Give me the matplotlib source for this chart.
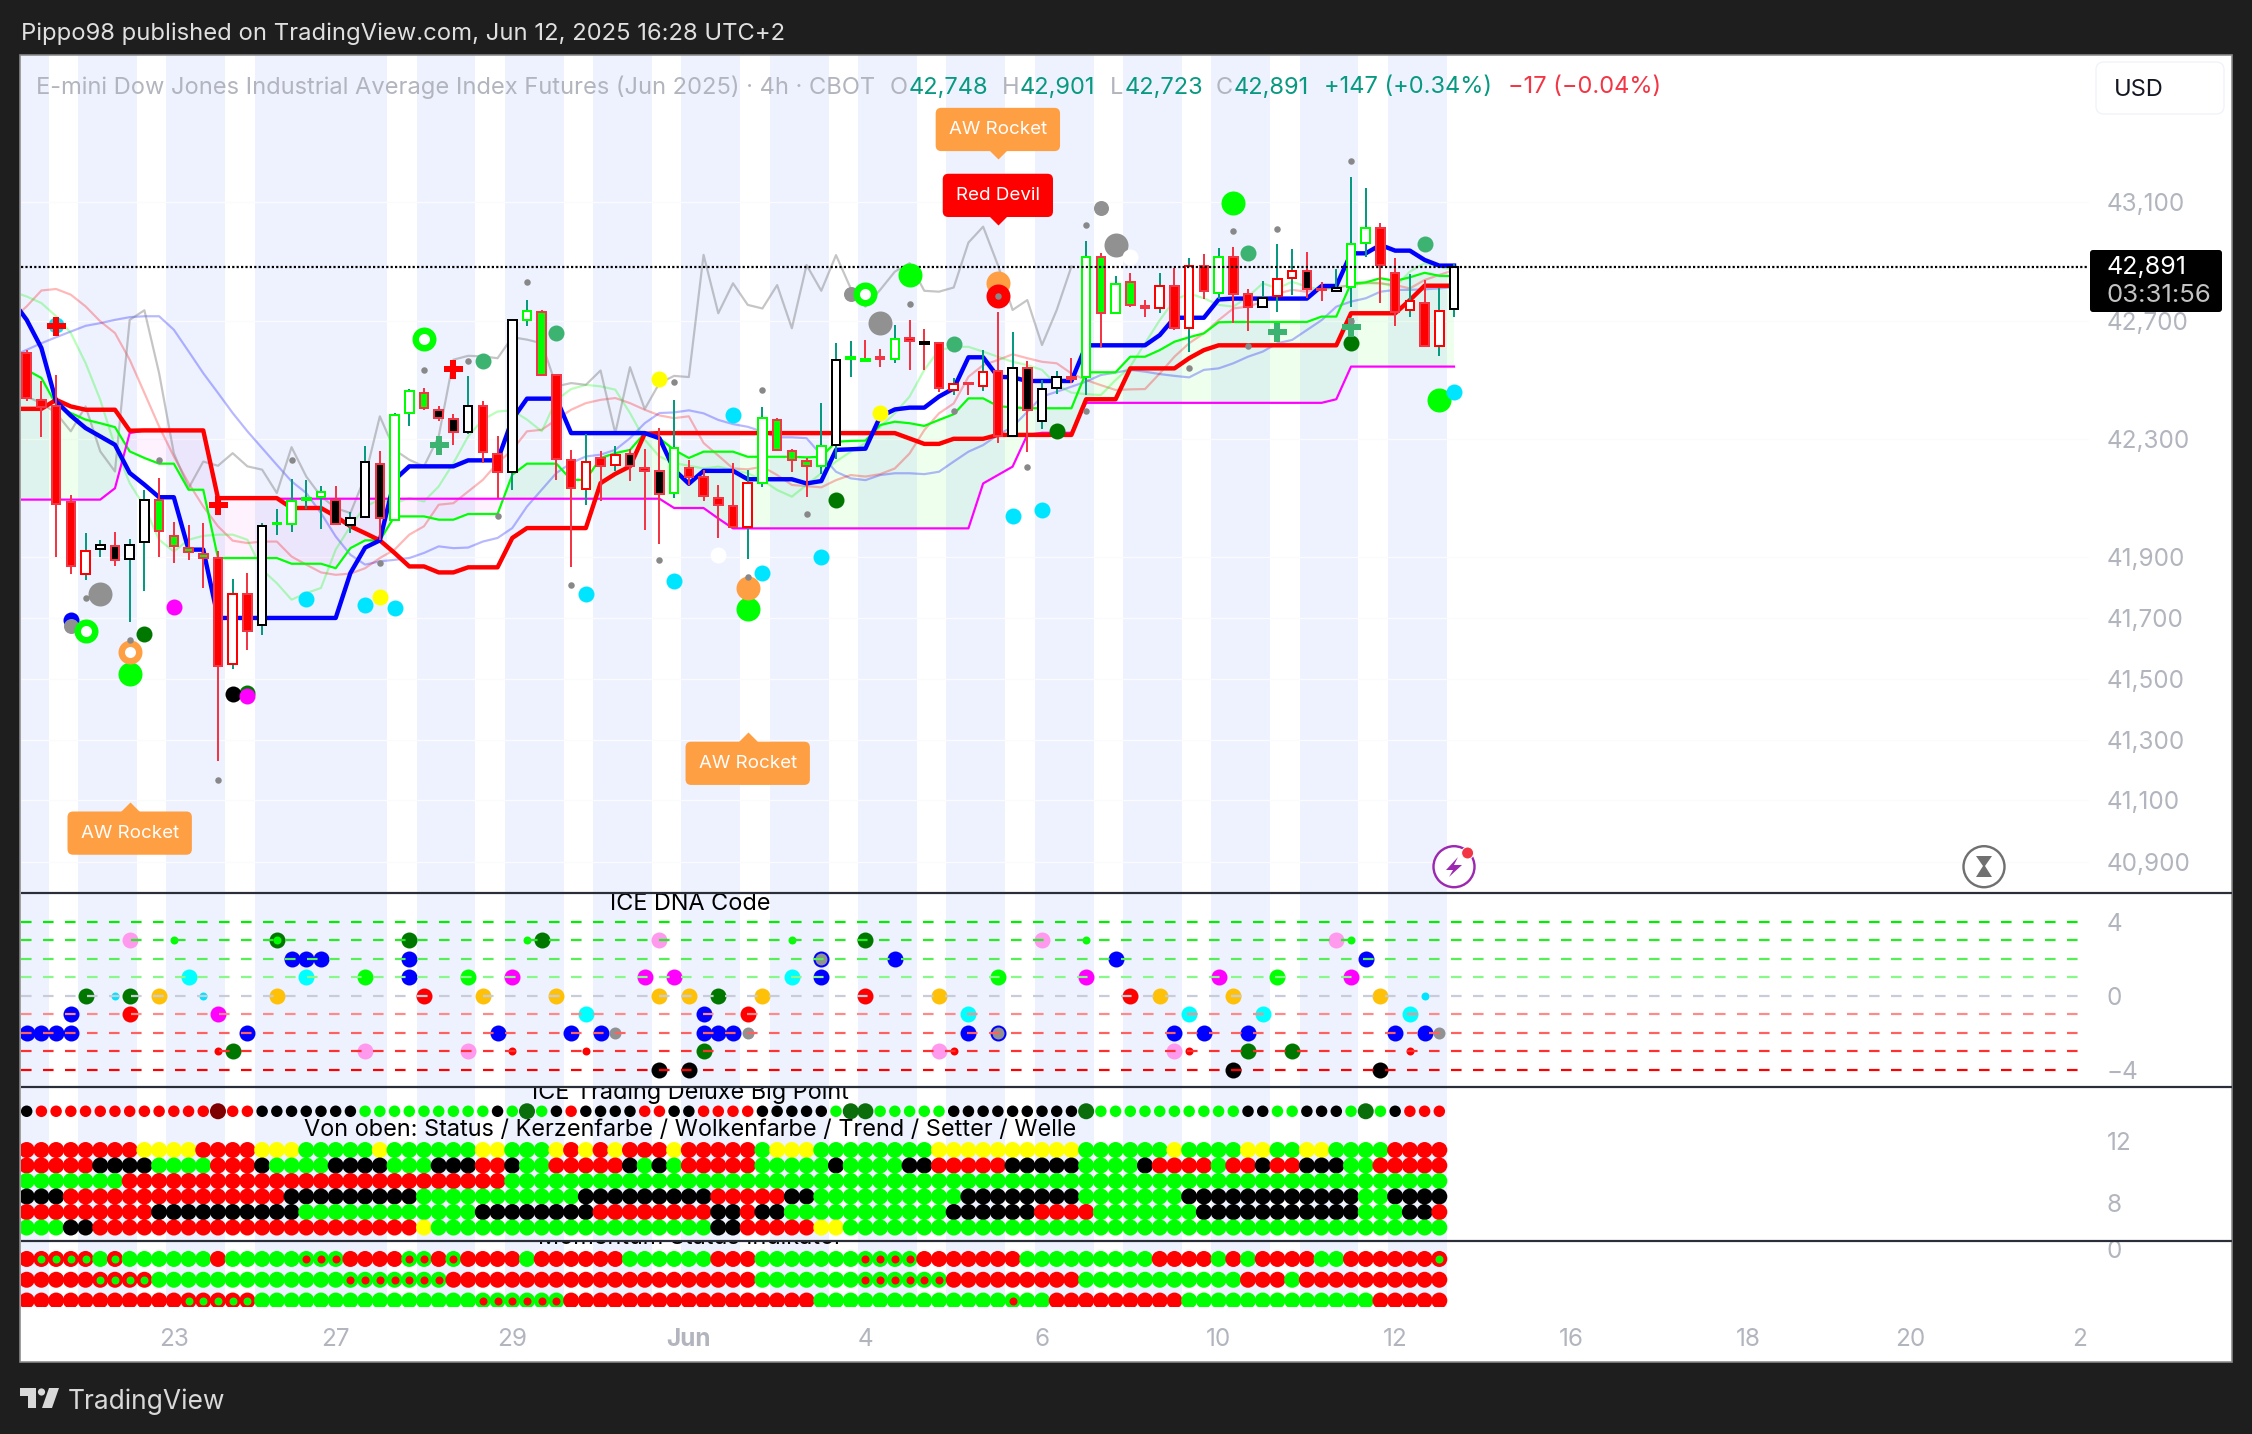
import matplotlib
matplotlib.use("Agg")
import matplotlib.pyplot as plt
import numpy as np
from matplotlib.patches import Circle, FancyBboxPatch, Polygon, Rectangle
from matplotlib.path import Path

plt.rcParams['font.family'] = ['Inter', 'DejaVu Sans']

# ---- candles, one row per 4h bar
opens = [42604,42446,42424,42105,41866,41949,41959,41916,41970,42113,41992,41952,41930,41918,41565,41799,41695,42030,42032,42113,
         42121,42113,42029,42056,42233,42046,42403,42470,42413,42383,42340,42424,42266,42204,42713,42738,42528,42246,42149,42252,
         42229,42265,42220,42207,42136,42220,42187,42119,42093,42023,42170,42379,42275,42242,42225,42295,42581,42583,42588,42581,
         42651,42638,42637,42478,42501,42492,42543,42325,42553,42374,42484,42523,42523,42922,42737,42839,42759,42752,42826,42686,
         42893,42804,42924,42799,42757,42793,42853,42876,42817,42809,42822,42968,43018,42870,42746,42770,42626,42748]
highs = [42613,42508,42530,42129,42001,41979,42005,41981,42144,42185,42039,42029,42035,41940,41849,41868,42035,42081,42183,42179,
         42159,42159,42071,42291,42274,42402,42482,42485,42426,42400,42524,42443,42326,42716,42780,42747,42528,42279,42333,42274,
         42293,42282,42282,42352,42446,42246,42213,42162,42234,42212,42421,42384,42281,42251,42434,42635,42642,42646,42615,42696,
         42712,42681,42640,42518,42503,42612,42740,42674,42576,42512,42542,42587,42977,42935,42859,42868,42779,42868,42885,42918,
         42933,42954,42957,42815,42843,42966,42948,42941,42840,42882,43191,43153,43037,42918,42866,42846,42818,42901]
lows = [42441,42322,41921,41864,41846,41921,41893,41706,41807,41921,41903,41912,41818,41241,41548,41610,41662,41996,42004,42081,
        42015,42029,42001,42051,41979,42046,42360,42413,42374,42294,42333,42235,42118,42146,42693,42524,42177,41887,42094,42107,
        42207,42174,42010,41966,42118,42163,42110,41986,42020,41914,42156,42276,42206,42123,42198,42247,42523,42573,42557,42568,
        42546,42546,42473,42462,42462,42475,42303,42323,42273,42348,42465,42503,42462,42623,42735,42755,42721,42737,42679,42607,
        42781,42781,42704,42677,42755,42740,42796,42785,42777,42807,42755,42924,42768,42692,42721,42623,42593,42723]
closes = [42452,42422,42098,41892,41943,41960,41912,41960,42113,42009,41959,41937,41918,41556,41799,41673,42026,42035,42110,42120,
          42139,42032,42052,42237,42050,42397,42474,42419,42386,42338,42424,42273,42206,42711,42741,42530,42248,42153,42237,42226,
          42263,42224,42209,42133,42284,42188,42126,42095,42023,42170,42386,42279,42245,42225,42292,42579,42590,42574,42582,42650,
          42643,42633,42484,42498,42498,42540,42325,42553,42412,42483,42523,42517,42924,42737,42833,42763,42752,42826,42685,42893,
          42810,42924,42799,42756,42785,42849,42876,42815,42813,42819,42966,43020,42895,42740,42777,42626,42744,42891]
# R red, G green, B black (red rim), H red hollow, L lime hollow, K black hollow, g lime flat, k black flat
bar_state = ("RRRRHKBKKGGGGRHRKgLgLB" "KKBLLGBBKRRKLGRRHRHBRBL" "RRRRHLGGGLKggRLRkRHRHRKBKKR" "LGLGRHRHRLRRKHHBRKLLRRHRHK")

# ---- lines, first value belongs to the bar before the first candle
blue_line = [42780,42713,42619,42441,42393,42352,42324,42296,42202,42163,42121,42121,41946,41946,41718,41718,41718,41718,41718,41718,
             41718,41718,41718,41868,41953,41977,42179,42224,42224,42224,42224,42244,42244,42244,42380,42450,42450,42450,42335,42335,
             42335,42335,42335,42335,42318,42213,42166,42209,42209,42209,42181,42181,42181,42181,42167,42175,42279,42281,42283,42390,
             42414,42420,42420,42457,42484,42588,42588,42523,42521,42509,42509,42509,42509,42628,42628,42628,42628,42628,42662,42720,
             42720,42720,42781,42784,42784,42784,42784,42784,42784,42826,42826,42935,42935,42963,42944,42944,42913,42894,42894]
red_line = [42416,42416,42416,42446,42424,42413,42413,42413,42343,42344,42344,42344,42344,42344,42118,42118,42118,42118,42118,42085,
            42085,42085,42057,42024,42001,41977,41935,41890,41890,41870,41870,41887,41887,41887,41985,42018,42018,42018,42018,42018,
            42168,42199,42224,42333,42335,42335,42335,42335,42335,42335,42335,42335,42335,42335,42335,42335,42335,42335,42335,42335,
            42335,42317,42299,42299,42316,42316,42316,42329,42329,42329,42329,42329,42329,42448,42448,42448,42551,42551,42551,42551,
            42585,42612,42628,42628,42628,42628,42628,42628,42628,42628,42628,42735,42735,42735,42735,42779,42827,42827,42827]
magenta_line = [42113,42113,42113,42113,42113,42113,42113,42151,42335,42344,42344,42344,42344,42344,42116,42116,42116,42116,42116,42116,
                42116,42116,42116,42116,42116,42116,42116,42116,42116,42116,42116,42116,42116,42116,42116,42116,42116,42116,42116,42116,
                42116,42116,42116,42116,42116,42085,42085,42085,42050,42017,42017,42017,42017,42017,42017,42017,42017,42017,42017,42017,
                42017,42017,42017,42017,42017,42017,42167,42195,42223,42329,42336,42336,42336,42436,42436,42436,42436,42436,42436,42436,
                42436,42436,42436,42436,42436,42436,42436,42436,42436,42436,42448,42557,42557,42557,42557,42557,42557,42557,42557]
green_line = [42580,42546,42519,42430,42402,42380,42368,42355,42274,42252,42233,42233,42146,42146,41918,41918,41918,41918,41918,41899,
              41899,41899,41884,41951,41977,41977,42057,42057,42057,42046,42046,42065,42065,42065,42196,42233,42233,42233,42179,42179,
              42252,42268,42279,42335,42318,42279,42252,42273,42273,42273,42256,42256,42256,42256,42254,42256,42306,42309,42310,42362,
              42373,42368,42359,42379,42398,42451,42451,42425,42421,42418,42418,42418,42418,42538,42538,42538,42590,42590,42612,42640,
              42655,42668,42705,42706,42706,42706,42706,42706,42706,42724,42724,42835,42838,42852,42843,42855,42870,42860,42859]
soft_blue = [42591,42613,42635,42655,42674,42693,42702,42713,42722,42725,42725,42680,42608,42535,42469,42402,42341,42285,42229,42174,
             42135,42068,41990,41929,41896,41907,41912,41918,41935,41957,41951,41953,41973,41985,42018,42090,42146,42202,42235,42257,
             42263,42279,42318,42368,42402,42404,42411,42401,42379,42365,42356,42340,42321,42321,42318,42262,42206,42184,42178,42195,
             42201,42201,42198,42206,42240,42273,42295,42329,42356,42406,42457,42473,42490,42507,42529,42537,42546,42540,42532,42526,
             42521,42546,42551,42568,42590,42607,42635,42646,42679,42712,42757,42774,42785,42807,42813,42813,42815,42818,42822]
soft_pink = [42713,42758,42811,42816,42797,42758,42708,42669,42580,42469,42357,42257,42168,42090,42024,41976,41968,41973,41973,41923,
             41896,41870,41862,41866,41884,41918,41946,41996,42024,42096,42101,42140,42179,42235,42279,42341,42346,42380,42413,42435,
             42446,42452,42435,42413,42394,42385,42391,42302,42260,42217,42214,42223,42195,42162,42158,42154,42178,42195,42190,42198,
             42217,42267,42345,42401,42434,42523,42562,42579,42598,42585,42573,42568,42534,42512,42495,42479,42481,42482,42534,42590,
             42635,42668,42712,42751,42757,42774,42801,42813,42807,42818,42821,42829,42837,42835,42829,42818,42846,42863,42879]
soft_green = [42808,42791,42769,42725,42669,42569,42446,42291,42168,42090,41979,41940,41979,41992,41996,41996,41979,41879,41834,41779,
              41801,41818,41946,42024,42090,42113,42101,42118,42107,42157,42235,42324,42380,42407,42411,42380,42341,42446,42482,42496,
              42491,42480,42402,42313,42257,42235,42226,42217,42223,42212,42201,42178,42145,42123,42162,42201,42240,42273,42301,42356,
              42401,42457,42546,42612,42623,42623,42607,42590,42573,42562,42546,42495,42470,42465,42462,42512,42557,42635,42712,42779,
              42801,42785,42763,42757,42790,42835,42818,42840,42824,42813,42821,42829,42835,42835,42824,42874,42902,42890,42879]
lag_gray = [42457,42435,42402,42341,42424,42274,42207,42713,42745,42535,42268,42151,42240,42226,42268,42224,42213,42135,42288,42190,
            42124,42085,42068,42190,42391,42279,42246,42224,42324,42580,42593,42591,42585,42655,42647,42635,42491,42502,42496,42544,
            42335,42555,42415,42502,42526,42522,42930,42735,42835,42763,42751,42829,42685,42896,42810,42929,42818,42757,42813,42874,
            42902,42810,42807,42821,42971,43024,42896,42746,42779,42629,42746,42891]

# ---- day session shading, in bar numbers
band_starts = [-1.0,3.5,9.5,15.5,26.5,32.5,38.5,44.5,50.5,56.5,62.5,68.5,74.5,80.5,86.5,92.5]
band_ends = [1.5,7.5,13.5,24.5,30.5,36.5,42.5,48.5,54.5,60.5,66.5,72.5,78.5,84.5,90.5,96.5]

# ---- signals on the price pane (bar, price)
gray_small = [(4,41785),(7,41643),(9,42246),(13,41177),(18,42244),(24,41901),(27,42544),(30,42576),(32,42057),(34,42838),(37,41827),
              (43,41910),(44,42504),(49,41856),(50,42479),(53,42065),(60,42766),(63,42410),(66,42793),(68,42223),(72,42410),(72,43030),
              (79,42553),(82,43011),(83,42627),(85,43016),(90,43243),(90,42710)]
gray_mid = [(3,41690),(56,42799),(73,43087)]
gray_big = [(5,41799),(58,42701),(74,42963)]
cyan_dots = [(2,42697),(19,41782),(23,41762),(25,41751),(38,41799),(44,41840),(48,42396),(50,41868),(54,41922),(67,42058),(69,42080),(97,42473)]
yellow_dots = [(24,41788),(43,42516),(58,42403)]
white_dots = [(47,41929),(75,42924)]
seagreen_dots = [(31,42574),(36,42669),(63,42632),(83,42937),(95,42966)]
darkgreen_dots = [(8,41665),(15,41467),(55,42112),(70,42343),(90,42635)]
magenta_dots = [(10,41753),(15,41456)]
black_dots = [(14,41465)]
blue_dots = [(3,41712)]
lime_big = [(7,41532),(49,41749),(60,42863),(82,43104),(96,42445)]
orange_big = [(49,41819),(66,42835)]
red_big = [(66,42793)]
lime_rings = [(4,41673),(27,42650),(57,42799)]
orange_rings = [(7,41606)]
red_crosses = [(2,42691),(13,42096),(29,42550)]
green_crosses = [(28,42296),(85,42674),(90,42690)]
labels_above = [("AW Rocket",66,43250,"#ff9f43"),("Red Devil",66,43030,"#ff0000")]
labels_below = [("AW Rocket",7,41105,"#ff9f43"),("AW Rocket",49,41338,"#ff9f43")]

# ---- ICE DNA Code (bar, level)
dna_levels = [4,3,2,1,0,-1,-2,-3,-4]
dna_blue = [(18,2),(19,2),(20,2),(26,2),(59,2),(74,2),(91,2),(26,1),(54,1),(3,-1),(46,-1),(0,-2),(1,-2),(2,-2),(3,-2),(15,-2),(32,-2),
            (37,-2),(39,-2),(46,-2),(47,-2),(48,-2),(64,-2),(78,-2),(80,-2),(83,-2),(93,-2),(95,-2)]
dna_darkgreen = [(17,3),(26,3),(35,3),(57,3),(4,0),(7,0),(47,0),(14,-3),(46,-3),(83,-3),(86,-3)]
dna_pink = [(7,3),(43,3),(69,3),(89,3),(23,-3),(30,-3),(62,-3),(78,-3)]
dna_lime = [(23,1),(30,1),(66,1),(85,1)]
dna_lime_small = [(10,3),(17,3),(34,3),(52,3),(72,3),(90,3)]
dna_cyan = [(11,1),(19,1),(52,1),(38,-1),(64,-1),(79,-1),(84,-1),(94,-1)]
dna_cyan_small = [(6,0),(12,0),(95,0)]
dna_magenta = [(33,1),(42,1),(44,1),(72,1),(81,1),(90,1),(13,-1)]
dna_amber = [(9,0),(17,0),(31,0),(36,0),(43,0),(45,0),(50,0),(62,0),(77,0),(82,0),(92,0)]
dna_red = [(27,0),(57,0),(75,0),(7,-1),(49,-1)]
dna_red_small = [(13,-3),(33,-3),(38,-3),(63,-3),(79,-3),(94,-3)]
dna_gray = [(40,-2),(49,-2),(96,-2)]
dna_gray_rimmed = [(54,2),(66,-2)]
dna_black = [(43,-4),(45,-4),(82,-4),(92,-4)]

# ---- Big Point rows, one letter per bar
big_point_top = ("k" + "r"*12 + "D" "rr" + "k"*7 + "g"*9 + "k" "g" "E" "g" "k" "r" "kkkk" "rr" "kk" "rrrr" "kkkkk" "g" "EE"
                 "ggggg" + "k"*9 + "E" + "g"*10 + "kk" "gg" "kkk" "g" "E" "g" "k" "rrr")
big_point_rows = [
    ("r"*8 + "yyyy" "rrrr" "yyy" "ggggg" "y" "gggggg" "yy" "ggg" "y" "r" "y" "r" "y" "rrr" "y" "rrrrr" "g" "yyy" + "g"*8
     + "y"*10 + "gggggg" "y" "gggg" "yy" "gg" "yy" "gggg" "rrrr"),
    ("rrrrr" "kkkk" "gggg" "rrr" "k" "gggg" "kkkk" "ggg" "kkk" "rr" "k" "gg" "rrrrr" "k" "g" "k" "g" "rrrrr" "ggggg" "k" "gggg"
     "kk" "rrrrr" "kkkkk" "gggg" "k" "rrrr" "g" "rr" "k" "rr" "kkk" "gg" "rrrrr"),
    "g"*7 + "r"*26 + "g"*64,
    ("kkk" + "r"*15 + "k"*9 + "g"*11 + "k"*9 + "rrrrr" "kk" + "g"*10 + "k"*8 + "g"*7 + "k"*12 + "gg" "kkkk"),
    ("r"*9 + "k"*10 + "g"*12 + "k"*8 + "r"*8 + "kk" "r" "kk" + "g"*11 + "k"*6 + "rrrr" + "g"*7 + "k"*11 + "ggg" "kk" "r"),
    ("ggg" "kk" + "r"*22 + "y" + "g"*19 + "kk" "rrrrr" "yy" + "g"*41),
]
big_point_levels = [11.4,10.4,9.4,8.4,7.4,6.4]
big_point_top_level = 13.9

# ---- Momentum rows; a = red with lime centre, b = lime with red centre
momentum_rows = [
    ("r" "aaaa" "g" "a" "gggggg" "r" "ggggg" "bbb" "rrrr" "bb" "r" "b" "rrrr" "g" "rrrrrr" "gggggg" "rrr" "ggggggg" "bbbb" "rrrrrrr"
     "ggggggggg" "rrrr" "g" "r" "g" "rrrr" "gg" "rrrrrr" "a"),
    ("rrrrr" "aaaa" + "g"*13 + "b"*7 + "r"*21 + "g"*7 + "b"*6 + "r"*9 + "g"*11 + "rrr" "g" + "r"*10),
    ("r"*11 + "aaaaa" + "g"*15 + "b"*6 + "r"*17 + "g"*13 + "b" "gg" + "r"*9 + "g"*13 + "rrrrr"),
]
momentum_levels = [-0.5,-1.5,-2.5]

# the source axis is slightly logarithmic, so the labels do not sit evenly on this linear one
price_tick_labels = [43100,42700,42300,41900,41700,41500,41300,41100,40900]
price_tick_places = [43105,42709,42314,41923,41717,41514,41312,41110,40905]
date_ticks = [10,21,33,45,57,69,81,93,105,117,128,139.5]
date_labels = ["23","27","29","Jun","4","6","10","12","16","18","20","2"]
last_price = 42891
left_bar, right_bar = -0.42, 149.87

W, H = 2252, 1434
fig = plt.figure(figsize=(W / 100, H / 100), dpi=100, facecolor='#1e1e1e')


def px(d):
    # pixels to points at this dpi
    return d * 0.72


def dot_size(d):
    return px(d) ** 2


def pane(top, bottom, ymin, ymax):
    ax = fig.add_axes([20.5 / W, 1 - bottom / H, (2232 - 20.5) / W, (bottom - top) / H])
    ax.set_xlim(left_bar, right_bar)
    ax.set_ylim(ymin, ymax)
    for s in ax.spines.values():
        s.set_visible(False)
    ax.set_xticks([])
    ax.yaxis.tick_right()
    ax.tick_params(axis='y', length=0, pad=-90.2, labelcolor='#b2b5be', labelsize=17.5)
    for a, b in zip(band_starts, band_ends):
        ax.axvspan(a, b, color='#eef2ff', lw=0, zorder=0)
    return ax


def dots(ax, pts, color, d, z=6, **kw):
    xs = [p[0] for p in pts]
    ys = [p[1] for p in pts]
    ax.scatter(xs, ys, s=dot_size(d), c=color, linewidths=kw.pop('linewidths', 0), zorder=z, **kw)


back = fig.add_axes([0, 0, 1, 1], zorder=-1)
back.set_xlim(0, W)
back.set_ylim(H, 0)
back.axis('off')
back.add_patch(Rectangle((20, 55), 2212, 1307, fc='white', ec='none'))

# ---------------- price pane
ax = pane(55, 892.7, 40801, 43597)
bars = np.arange(len(closes))
line_x = np.arange(-1, 98)

ax.hlines(price_tick_places, left_bar, 140.1, color='#fafbfd', lw=px(1.4), zorder=0.5)

g_arr = np.array(green_line)
m_arr = np.array(magenta_line)
ax.fill_between(line_x, g_arr, m_arr, where=g_arr >= m_arr, interpolate=True, color='#00ff00', alpha=0.065, lw=0, zorder=1)
ax.fill_between(line_x, g_arr, m_arr, where=g_arr <= m_arr, interpolate=True, color='#d80fd8', alpha=0.05, lw=0, zorder=1)

ax.plot(line_x, soft_blue, color='#0000ff', alpha=0.28, lw=px(2.2), zorder=1.5)
ax.plot(line_x, soft_pink, color='#ff0000', alpha=0.28, lw=px(2.2), zorder=1.5)
ax.plot(line_x, soft_green, color='#00ff00', alpha=0.28, lw=px(2.2), zorder=1.5)
ax.plot(bars[:len(lag_gray)], lag_gray, color='#808080', alpha=0.45, lw=px(2.2), zorder=1.5)
ax.plot(line_x, green_line, color='#00ff00', lw=px(2.2), zorder=2)
ax.plot(line_x, magenta_line, color='#ff00ff', lw=px(2.2), zorder=2)
ax.plot(line_x, red_line, color='#ff0000', lw=px(4.4), zorder=2.5)
ax.plot(line_x, blue_line, color='#0000ff', lw=px(4.4), zorder=2.6)

body_fill = {'R': '#ff0000', 'G': '#00ff00', 'B': '#000000', 'H': 'white', 'L': 'white', 'K': 'white', 'g': '#00ff00', 'k': '#000000'}
body_edge = {'R': '#f23645', 'G': '#f23645', 'B': '#f23645', 'H': '#ff0000', 'L': '#00ff00', 'K': '#000000', 'g': '#00ff00', 'k': '#000000'}
o_arr, h_arr, l_arr, c_arr = map(np.array, (opens, highs, lows, closes))
wick_col = ['#089981' if c >= o else '#f23645' for o, c in zip(opens, closes)]
ax.vlines(bars, l_arr, h_arr, colors=wick_col, lw=px(2), zorder=3)
ax.bar(bars, np.abs(c_arr - o_arr), bottom=np.minimum(o_arr, c_arr), width=0.58,
       color=[body_fill[s] for s in bar_state], edgecolor=[body_edge[s] for s in bar_state],
       linewidth=px(2), zorder=4)

ax.hlines(last_price, left_bar, 140.1, color='black', lw=px(2.2), linestyles=(0, (1, 1)), zorder=5)

dots(ax, lime_big, '#00ff00', 24)
dots(ax, orange_big, '#ff9f43', 24)
dots(ax, red_big, '#ff0000', 24)
dots(ax, gray_big, '#919191', 24)
dots(ax, blue_dots, '#0000ff', 16)
dots(ax, gray_mid, '#919191', 15)
dots(ax, cyan_dots, '#00e5ff', 16)
dots(ax, yellow_dots, '#ffff00', 16)
dots(ax, white_dots, 'white', 16)
dots(ax, seagreen_dots, '#3cb371', 16)
dots(ax, darkgreen_dots, '#007800', 16)
dots(ax, black_dots, 'black', 16)
dots(ax, magenta_dots, '#ff00ff', 16)
dots(ax, lime_rings, '#00ff00', 24)
dots(ax, lime_rings, 'white', 11)
dots(ax, orange_rings, '#ff9f43', 24)
dots(ax, orange_rings, 'white', 11)
dots(ax, red_crosses, '#ff0000', 19, marker='P', z=7)
dots(ax, green_crosses, '#3cb371', 19, marker='P', z=7)
dots(ax, gray_small, '#888888', 6.5, z=8)

tip_down = Path([(0, 0), (-1, 1), (1, 1), (0, 0)])
tip_up = Path([(0, 0), (-1, -1), (1, -1), (0, 0)])
for group, tip, off in ((labels_above, tip_down, 29.5), (labels_below, tip_up, -31.5)):
    for text, bar, price, col in group:
        ax.plot([bar], [price], marker=tip, ms=px(24), color=col, mew=0, zorder=9, clip_on=False)
        ax.annotate(text, (bar, price), xytext=(0, off), textcoords='offset pixels', ha='center', va='center',
                    color='white', fontsize=13.5, zorder=9,
                    bbox=dict(boxstyle='round,pad=0.7,rounding_size=0.3', fc=col, ec='none'))

ax.set_yticks(price_tick_places)
ax.set_yticklabels([f"{t:,}" for t in price_tick_labels])

# ---------------- ICE DNA Code
ax2 = pane(893.5, 1086.7, -4.93, 5.52)
level_cols = ['#00ee00', '#22ee22', '#55f055', '#88f888', '#c8ccd8', '#ff8a8a', '#ff6060', '#ff3030', '#ff0000']
for lev, col in zip(dna_levels, level_cols):
    ax2.hlines(lev, left_bar, 139.4, color=col, lw=px(2.2), linestyles=(0, (4.8, 5.2)), zorder=8)
dots(ax2, dna_blue, '#0000ff', 16)
dots(ax2, dna_darkgreen, '#007800', 16)
dots(ax2, dna_pink, '#ff99ee', 16)
dots(ax2, dna_lime, '#00ff00', 16)
dots(ax2, dna_lime_small, '#00ff00', 8, z=7)
dots(ax2, dna_cyan, '#00ffff', 16)
dots(ax2, dna_cyan_small, '#00e5ff', 8)
dots(ax2, dna_magenta, '#ff00ff', 16)
dots(ax2, dna_amber, '#ffc107', 16)
dots(ax2, dna_red, '#ff0000', 16)
dots(ax2, dna_red_small, '#ff0000', 8)
dots(ax2, dna_gray, '#919191', 12)
dots(ax2, dna_gray_rimmed, '#919191', 14, edgecolors='#0000ff', linewidths=px(2))
dots(ax2, dna_black, 'black', 16)
ax2.set_yticks([4, 0, -4])
ax2.set_yticklabels(["4", "0", "\u22124"])

# ---------------- Big Point
ax3 = pane(1087.7, 1240.7, 5.55, 15.42)
row_cols = {'r': '#ff0000', 'g': '#00ff00', 'k': '#000000', 'y': '#ffff00', 'D': '#7f0000', 'E': '#0a6e0a'}
for lev, row in zip(big_point_levels, big_point_rows):
    ax3.scatter(np.arange(len(row)), [lev] * len(row), s=dot_size(16), c=[row_cols[c] for c in row], linewidths=0, zorder=3)
top_sizes = [dot_size(16) if c in 'DE' else dot_size(11.5) for c in big_point_top]
ax3.scatter(np.arange(len(big_point_top)), [big_point_top_level] * len(big_point_top), s=top_sizes,
            c=[row_cols[c] for c in big_point_top], linewidths=0, zorder=3)
ax3.set_yticks([12, 8])
ax3.set_yticklabels(["12", "8"])

# ---------------- Momentum
ax4 = pane(1241.7, 1307, -2.81, 0.33)
outer = {'r': '#ff0000', 'g': '#00ff00', 'a': '#ff0000', 'b': '#00ff00'}
for lev, row in zip(momentum_levels, momentum_rows):
    ax4.scatter(np.arange(len(row)), [lev] * len(row), s=dot_size(16), c=[outer[c] for c in row], linewidths=0, zorder=3)
    for kind, col in (('a', '#00ff00'), ('b', '#ff0000')):
        idx = [i for i, c in enumerate(row) if c == kind]
        ax4.scatter(idx, [lev] * len(idx), s=dot_size(8), c=col, linewidths=0, zorder=4)
ax4.set_yticks([0])
ax4.set_yticklabels(["0"])
ax4.set_xticks(date_ticks)
ax4.set_xticklabels(date_labels, color='#b2b5be', fontsize=17.5)
ax4.get_xticklabels()[3].set_fontweight('bold')
ax4.tick_params(axis='x', length=0, pad=15)

# pane titles stay inside their own panes so they get cut at the pane edge
title_x = (690 - 20.5) / (2232 - 20.5)
for a, ypx, txt in ((ax2, 903.5, "ICE DNA Code"), (ax3, 1093, "ICE Trading Deluxe Big Point"),
                    (ax3, 1130, "Von oben: Status / Kerzenfarbe / Wolkenfarbe / Trend / Setter / Welle"),
                    (ax4, 1237.5, "Momentum Status Indikator")):
    top, bottom = a.get_position().y1 * H, a.get_position().y0 * H
    frac = ((H - ypx) - bottom) / (top - bottom)
    a.text(title_x, frac, txt, transform=a.transAxes, ha='center', va='center', fontsize=16.9, color='black',
           clip_on=True, zorder=9)

# ---------------- chrome on top, in pixels
top_ax = fig.add_axes([0, 0, 1, 1], zorder=10)
top_ax.set_xlim(0, W)
top_ax.set_ylim(H, 0)
top_ax.axis('off')
top_ax.add_patch(Rectangle((20, 55), 2212, 1307, fc='none', ec='#8a8a8a', lw=px(1.6)))
for y in (892.7, 1086.7, 1240.7):
    top_ax.plot([20.5, 2232], [y, y], color='#2a2e39', lw=px(2.2), solid_capstyle='butt')

top_ax.text(21, 34, "Pippo98 published on TradingView.com, Jun 12, 2025 16:28 UTC+2", color='#e0e0e0', fontsize=17.15, va='center')
top_ax.text(36, 87.5, "E-mini Dow Jones Industrial Average Index Futures (Jun 2025) \u00b7 4h \u00b7 CBOT", color='#b2b5be',
            fontsize=17.05, va='center')
for x, txt, col in ((890, "O", '#b2b5be'), (909, "42,748", '#089981'), (1002, "H", '#b2b5be'), (1020, "42,901", '#089981'),
                    (1110, "L", '#b2b5be'), (1125, "42,723", '#089981'), (1216, "C", '#b2b5be'), (1234, "42,891", '#089981'),
                    (1324, "+147 (+0.34%)", '#089981'), (1508, "\u221217 (\u22120.04%)", '#f23645')):
    top_ax.text(x, 87.5, txt, color=col, fontsize=17, va='center')

top_ax.add_patch(FancyBboxPatch((2100, 66), 120, 44, boxstyle='round,pad=4,rounding_size=8', fc='white', ec='#f0f3fa', lw=px(1.4)))
top_ax.text(2114, 89.5, "USD", color='#131722', fontsize=17, va='center')

top_ax.add_patch(FancyBboxPatch((2093, 253), 126, 56, boxstyle='round,pad=3,rounding_size=3', fc='black', ec='none'))
top_ax.text(2106.7, 267.5, f"{last_price:,}", color='white', fontsize=18, va='center')
top_ax.text(2106.7, 295.5, "03:31:56", color='#c3c3c3', fontsize=18.6, va='center')

# alert and replay badges
top_ax.add_patch(Circle((1454, 866.7), 20.5, fc='white', ec='#9c27b0', lw=px(2.4)))
top_ax.add_patch(Polygon([(1458, 857), (1446, 870), (1453, 870), (1449, 877), (1462, 865), (1454, 865)], fc='#9c27b0', ec='none'))
top_ax.add_patch(Circle((1467.6, 853), 6, fc='#f23645', ec='white', lw=px(1)))
top_ax.add_patch(Circle((1984, 866.7), 20.5, fc='white', ec='#707070', lw=px(2.4)))
top_ax.add_patch(Polygon([(1976, 856), (1992, 856), (1985, 866), (1992, 877), (1976, 877), (1983, 866)], fc='#707070', ec='none'))

# logo
top_ax.add_patch(Polygon([(20, 1388), (36, 1388), (36, 1408), (28, 1408), (28, 1396), (20, 1396)], fc='#d9d9d9', ec='none'))
top_ax.add_patch(Circle((41.5, 1392), 3.6, fc='#d9d9d9', ec='none'))
top_ax.add_patch(Polygon([(49, 1388), (59, 1388), (52, 1408), (42, 1408)], fc='#d9d9d9', ec='none'))
top_ax.text(68, 1401.5, "TradingView", color='#d9d9d9', fontsize=19, va='center')

fig.savefig("out.png", dpi=100, facecolor=fig.get_facecolor())
